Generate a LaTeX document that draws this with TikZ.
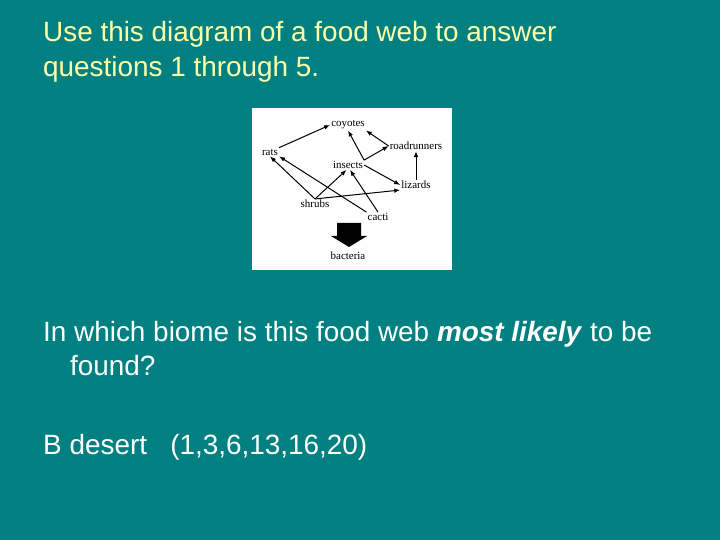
\documentclass[tikz,border=0pt]{standalone}
\usepackage{fontspec}
\setmainfont{Liberation Sans}
\newfontfamily\webfont{Liberation Serif}
\usepackage{tikz}
\usetikzlibrary{arrows.meta,positioning,calc}
\definecolor{slideteal}{RGB}{0,128,128}
\definecolor{titleyellow}{RGB}{255,255,170}
\tikzstyle{animal}=[inner sep=1pt, text=black, font=\webfont\fontsize{11}{13}\selectfont]
\tikzstyle{eats}=[line width=1bp, -{Latex[length=6bp,width=4.5bp]}]

\begin{document}
\begin{tikzpicture}[x=1bp,y=-1bp,slidetext/.style={anchor=base west, inner sep=0pt, text=white, font=\fontsize{28}{34}\selectfont}]
\useasboundingbox[fill=slideteal] (0,0) rectangle (720,540);
% question text
\node (title1) at (43,42) [slidetext, text=titleyellow] {Use this diagram of a food web to answer};
\node (title2) at (43,77) [slidetext, text=titleyellow] {questions 1 through 5.};
\node (ask1) at (43,341) [slidetext] {In which biome is this food web \textbf{\textit{most likely}} to be};
\node (ask2) at (70,375) [slidetext] {found?};
\node (answer) at (43,454) [slidetext] {B desert\ \ \ (1,3,6,13,16,20)};
% food web picture
\fill[white] (252,108) rectangle (452,270);
\node (coyotes) at (348,125) [animal] {coyotes};
\node (roadrunners) at (416,146) [animal] {roadrunners};
\node (rats) at (270,152) [animal] {rats};
\node (insects) at (348,165) [animal] {insects};
\node (lizards) at (416,185) [animal] {lizards};
\node (shrubs) at (315,204) [animal] {shrubs};
\node (cacti) at (378,217) [animal] {cacti};
\node (bacteria) at (348,256) [animal] {bacteria};
\draw[eats] (rats.north east) -- (coyotes.west);
\draw[eats] (roadrunners.west) -- (coyotes.south east);
\draw[eats] (insects.north east) -- (roadrunners.west);
\draw[eats] (insects.north east) -- (coyotes.south);
\draw[eats] (insects.east) -- (lizards.west);
\draw[eats] (lizards.north) -- (roadrunners.south);
\draw[eats] (shrubs.north) -- (rats.south);
\draw[eats] (cacti.north west) -- (rats.south east);
\draw[eats] (shrubs.north) -- ([xshift=-1.5bp]insects.south);
\draw[eats] (shrubs.north) -- (lizards.south west);
\draw[eats] (cacti.north) -- ([xshift=2bp]insects.south);
% decomposers
\fill[black] (337,223) -- (361,223) -- (361,236) -- (367,236) -- (349,247) -- (331,236) -- (337,236) -- cycle;
\end{tikzpicture}
\end{document}
